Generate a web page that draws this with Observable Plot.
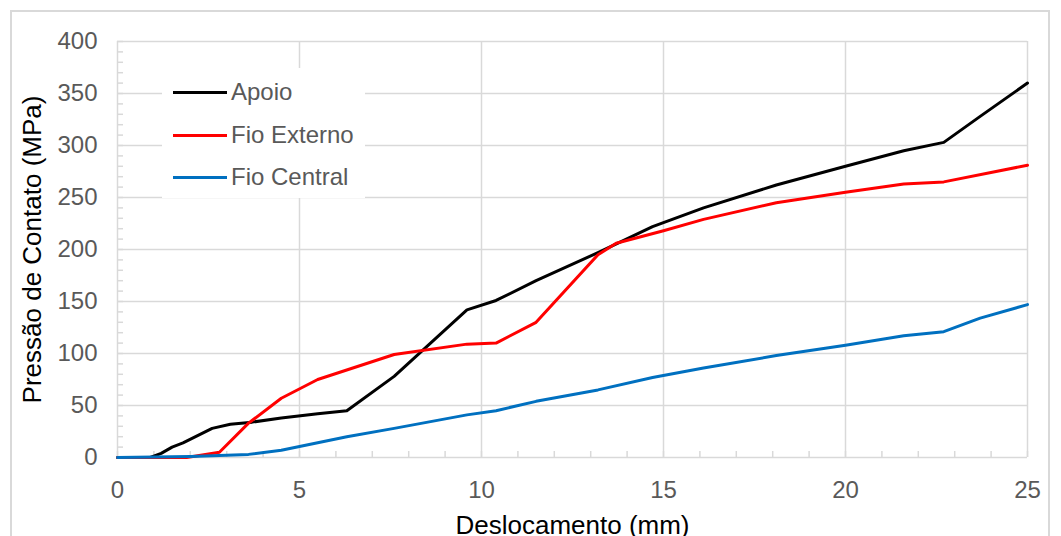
<!DOCTYPE html>
<html><head><meta charset="utf-8">
<script src="https://cdn.jsdelivr.net/npm/d3@7"></script>
<script src="https://cdn.jsdelivr.net/npm/@observablehq/plot@0.6"></script>
<style>
body{margin:0;background:#fff;font-family:"Liberation Sans",Arial,sans-serif;}
#wrap{position:relative;width:1061px;height:536px;overflow:hidden;}
#border{position:absolute;left:10px;top:10px;width:1040px;height:540px;border:2px solid #d9d9d9;box-sizing:border-box;}
#legend{position:absolute;left:162px;top:68px;width:203px;height:130px;background:#fff;}
.li{position:absolute;left:11px;height:24px;display:flex;align-items:center;font-size:24px;color:#595959;white-space:nowrap;}
.li span.sw{display:inline-block;width:54px;height:3px;margin-right:4px;}
</style></head>
<body><div id="wrap"><div id="border"></div><div id="chart"></div>
<div id="legend"></div></div>
<script>
const apoioX = [0, 0.9, 1.2, 1.5, 1.8, 2.6, 3.1, 3.7, 4.5, 5.5, 6.3, 7.6, 9.6, 10.4, 11.5, 13.2, 14.7, 16.1, 18.1, 20.0, 21.6, 22.7, 23.7, 25];
const apoioY = [0, 0, 4, 10, 14, 28, 32, 34, 38, 42, 45, 78, 142, 151, 170, 197, 222, 240, 262, 280, 295, 303, 328, 360];
const externoX = [0, 1.9, 2.8, 3.6, 4.5, 5.5, 7.6, 9.6, 10.4, 11.5, 13.2, 13.7, 15.0, 16.1, 18.1, 20.0, 21.6, 22.7, 25];
const externoY = [0, 0, 5, 33, 57, 75, 99, 109, 110, 130, 195, 206, 218, 229, 245, 255, 263, 265, 281];
const centralX = [0, 2.0, 3.6, 4.5, 6.3, 7.6, 9.6, 10.4, 11.5, 13.2, 14.7, 16.1, 18.1, 20.0, 21.6, 22.7, 23.7, 25];
const centralY = [0, 1, 3, 7, 20, 28, 41, 45, 54, 65, 77, 86, 98, 108, 117, 121, 134, 147];
const seriesNames = ["Apoio", "Fio Externo", "Fio Central"];
const seriesColors = ["#000000", "#ff0000", "#0070c0"];
const xTicks = [0, 5, 10, 15, 20, 25];
const yTicks = [0, 50, 100, 150, 200, 250, 300, 350, 400];

const toRows = (xs, ys, name) => xs.map((x, i) => ({x, y: ys[i], s: name}));
const data = [
  ...toRows(apoioX, apoioY, seriesNames[0]),
  ...toRows(externoX, externoY, seriesNames[1]),
  ...toRows(centralX, centralY, seriesNames[2])
];
const grid = "#d9d9d9";
const chart = Plot.plot({
  width: 1061, height: 536,
  marginLeft: 117, marginRight: 34, marginTop: 41, marginBottom: 79,
  style: {fontFamily: '"Liberation Sans", Arial, sans-serif', background: "transparent"},
  x: {domain: [0, 25]},
  y: {domain: [0, 400]},
  color: {domain: seriesNames, range: seriesColors},
  marks: [
    Plot.gridX(xTicks.filter(d => d > 0), {stroke: grid, strokeOpacity: 1, strokeWidth: 1.5}),
    Plot.gridY(yTicks.filter(d => d > 0), {stroke: grid, strokeOpacity: 1, strokeWidth: 1.5}),
    Plot.ruleX([0], {stroke: grid, strokeWidth: 1.5}),
    Plot.ruleY([0], {stroke: grid, strokeWidth: 1.5}),
    Plot.axisX(d3.range(0, 26), {tickSize: -6, tickFormat: () => "", stroke: grid, strokeWidth: 1.5, label: null}),
    Plot.axisY(d3.range(0, 401, 10), {tickSize: -6, tickFormat: () => "", stroke: grid, strokeWidth: 1.5, label: null}),
    Plot.axisX(xTicks, {tickSize: 0, tickPadding: 23, fontSize: 24, fill: "#595959", label: "Deslocamento (mm)", labelAnchor: "center", labelOffset: 76, labelArrow: "none"}),
    Plot.axisY(yTicks, {tickSize: 0, tickPadding: 20, fontSize: 24, fill: "#595959", label: "Pressão de Contato (MPa)", labelAnchor: "center", labelOffset: 95, labelArrow: "none"}),
    Plot.line(data, {x: "x", y: "y", z: "s", stroke: "s", strokeWidth: 3, strokeLinejoin: "round"})
  ]
});
chart.querySelectorAll("g[aria-label='x-axis label'] text, g[aria-label='y-axis label'] text").forEach(t => {
  t.setAttribute("fill", "#000");
  t.style.fontSize = "26px";
});
document.getElementById("chart").appendChild(chart);

const legend = document.getElementById("legend");
const legendTops = [12, 55, 97];
seriesNames.forEach((n, i) => {
  const d = document.createElement("div");
  d.className = "li";
  d.style.top = legendTops[i] + "px";
  d.innerHTML = `<span class="sw" style="background:${seriesColors[i]}"></span>${n}`;
  legend.appendChild(d);
});
</script></body></html>
